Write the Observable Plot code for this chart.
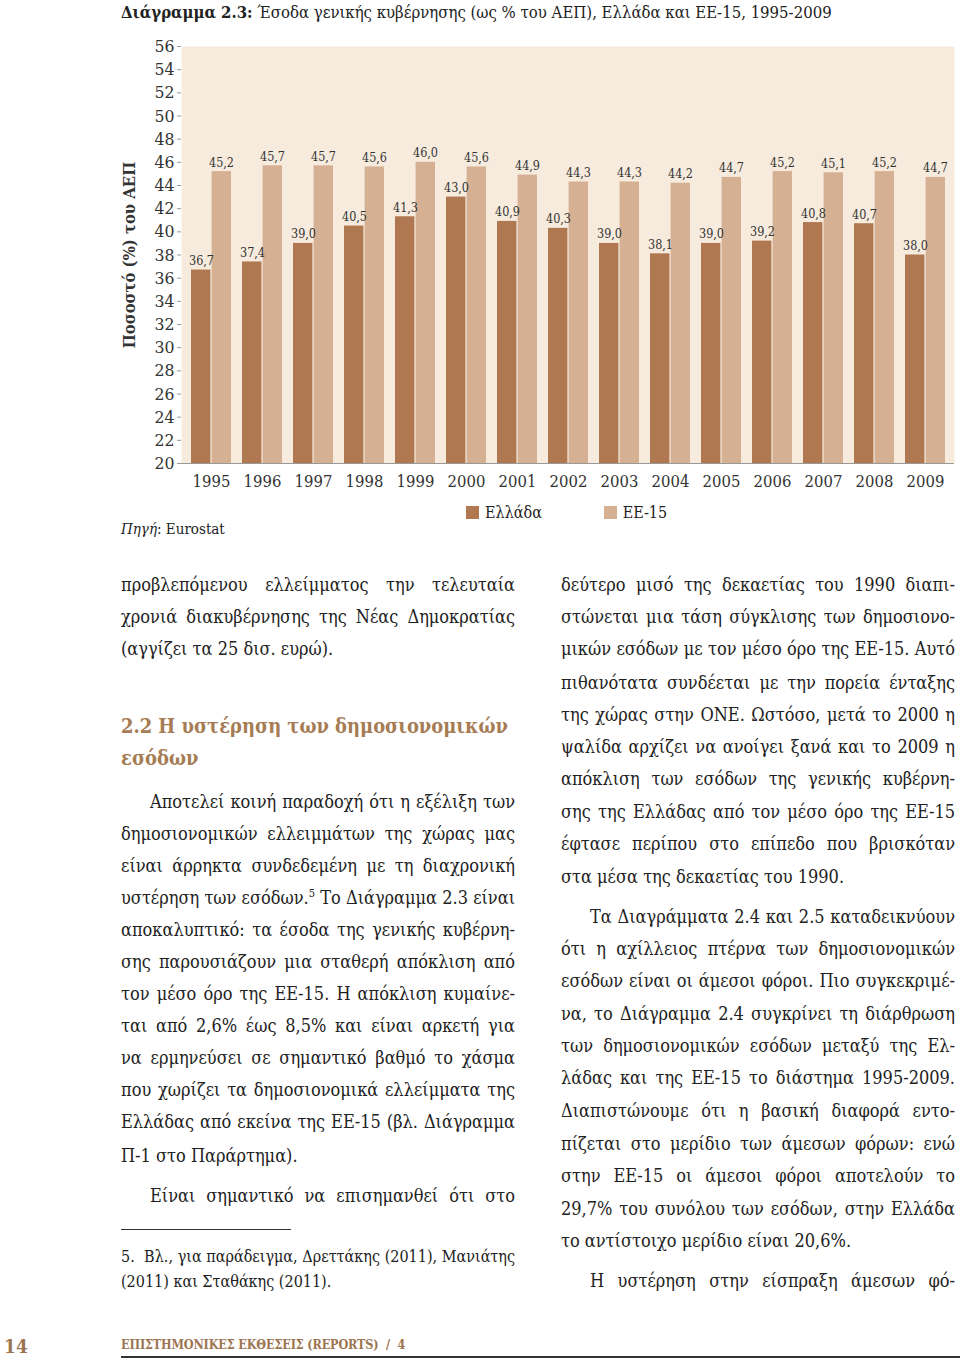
<!DOCTYPE html>
<html><head><meta charset="utf-8">
<script src="https://cdn.jsdelivr.net/npm/d3@7"></script>
<script src="https://cdn.jsdelivr.net/npm/@observablehq/plot@0.6"></script>
<style>
html,body{margin:0;padding:0;background:#fff;}
body{width:960px;height:1363px;position:relative;overflow:hidden;font-family:"DejaVu Serif Condensed","DejaVu Serif",serif;color:#222;}
.abs{position:absolute;}
#title{left:121px;top:2px;font-size:16.6px;white-space:nowrap;}
#chart{left:0;top:30px;}
#legend{left:466px;top:503px;font-size:16px;}
.sw{display:inline-block;width:13px;height:13px;vertical-align:-1px;margin-right:6px;}
#source{left:121px;top:520px;font-size:15px;}
.ln{position:absolute;height:32px;line-height:32px;font-size:18px;}
.j{text-align:justify;text-align-last:justify;}
.h{font-weight:bold;color:#a67c55;font-size:19.9px;white-space:nowrap;}
.fn{font-size:16px;}
</style></head>
<body>
<div id="title" class="abs"><b>Διάγραμμα 2.3:</b> Έσοδα γενικής κυβέρνησης (ως % του ΑΕΠ), Ελλάδα και ΕΕ-15, 1995-2009</div>
<div id="chart" class="abs"></div>
<div id="legend" class="abs"><span class="sw" style="background:#b07850"></span>Ελλάδα<span class="sw" style="background:#d5b093;margin-left:62px"></span>ΕΕ-15</div>
<div id="source" class="abs"><i>Πηγή</i>: Eurostat</div>
<div id="text"></div>
<script>
const years = ["1995","1996","1997","1998","1999","2000","2001","2002","2003","2004","2005","2006","2007","2008","2009"];
const greece = [36.7,37.4,39.0,40.5,41.3,43.0,40.9,40.3,39.0,38.1,39.0,39.2,40.8,40.7,38.0];
const eu15 =   [45.2,45.7,45.7,45.6,46.0,45.6,44.9,44.3,44.3,44.2,44.7,45.2,45.1,45.2,44.7];
const seriesNames = ["Ελλάδα","ΕΕ-15"];
const seriesColors = ["#b07850","#d5b093"];
const yTicks = [20,22,24,26,28,30,32,34,36,38,40,42,44,46,48,50,52,54,56];
const yLabel = "Ποσοστό (%) του ΑΕΠ";

const gr = years.map((y,i)=>({year:y, value:greece[i], series:seriesNames[0]}));
const eu = years.map((y,i)=>({year:y, value:eu15[i], series:seriesNames[1]}));
const fmt = v => v.toFixed(1).replace(".", ",");
const half = 20.6;

const chart = Plot.plot({
  width: 960, height: 465,
  marginLeft: 181, marginRight: 6, marginTop: 16, marginBottom: 32,
  style: {fontFamily: "'DejaVu Serif Condensed','DejaVu Serif',serif", fontSize: "16px", color: "#333", background: "transparent"},
  x: {type: "band", domain: years, paddingInner: 0.22, paddingOuter: 0.11, label: null},
  y: {domain: [20, 56], label: null},
  color: {domain: seriesNames, range: seriesColors},
  marks: [
    Plot.frame({fill: "#f7ebde", stroke: null}),
    Plot.barY(gr, {x: "year", y1: 20, y2: "value", fill: "series", insetRight: half}),
    Plot.barY(eu, {x: "year", y1: 20, y2: "value", fill: "series", insetLeft: half}),
    Plot.text(gr, {x: "year", y: "value", text: d => fmt(d.value), dx: -10, dy: -9, fontSize: 12.5, fill: "#333"}),
    Plot.text(eu, {x: "year", y: "value", text: d => fmt(d.value), dx: 10, dy: -9, fontSize: 12.5, fill: "#333"}),
    Plot.axisY({ticks: yTicks, tickFormat: d => d, tickSize: 4, stroke: "#999", fill: "#333", fontSize: 17.5, tickPadding: 3, label: null}),
    Plot.axisX({tickSize: 0, tickPadding: 12, fill: "#333", fontSize: 16.5, label: null}),
    Plot.ruleX([0], {frameAnchor: "left", stroke: "#999"}),
    Plot.ruleY([20], {stroke: "#999"}),
    Plot.text([yLabel], {frameAnchor: "left", textAnchor: "middle", rotate: -90, dx: -52, fontWeight: "bold", fontSize: 16.5, fill: "#333"})
  ]
});
document.getElementById("chart").appendChild(chart);

// body text
const leftLines = [
  [585,"προβλεπόμενου ελλείμματος την τελευταία","j"],
  [617,"χρονιά διακυβέρνησης της Νέας Δημοκρατίας","j"],
  [649,"(αγγίζει τα 25 δισ. ευρώ).","l"],
  [726,"2.2 Η υστέρηση των δημοσιονομικών","h"],
  [758,"εσόδων","h"],
  [802,"Αποτελεί κοινή παραδοχή ότι η εξέλιξη των","ji"],
  [834,"δημοσιονομικών ελλειμμάτων της χώρας μας","j"],
  [866,"είναι άρρηκτα συνδεδεμένη με τη διαχρονική","j"],
  [898,"υστέρηση των εσόδων.<sup style='font-size:11px;line-height:0'>5</sup> Το Διάγραμμα 2.3 είναι","j"],
  [930,"αποκαλυπτικό: τα έσοδα της γενικής κυβέρνη-","j"],
  [962,"σης παρουσιάζουν μια σταθερή απόκλιση από","j"],
  [994,"τον μέσο όρο της ΕΕ-15. Η απόκλιση κυμαίνε-","j"],
  [1026,"ται από 2,6% έως 8,5% και είναι αρκετή για","j"],
  [1058,"να ερμηνεύσει σε σημαντικό βαθμό το χάσμα","j"],
  [1090,"που χωρίζει τα δημοσιονομικά ελλείμματα της","j"],
  [1122,"Ελλάδας από εκείνα της ΕΕ-15 (βλ. Διάγραμμα","j"],
  [1156,"Π-1 στο Παράρτημα).","l"],
  [1196,"Είναι σημαντικό να επισημανθεί ότι στο","ji"],
  [1257,"5.&nbsp; Βλ., για παράδειγμα, Δρεττάκης (2011), Μανιάτης","fj"],
  [1282,"(2011) και Σταθάκης (2011).","fl"]
];
const rightLines = [
  [585,"δεύτερο μισό της δεκαετίας του 1990 διαπι-","j"],
  [617,"στώνεται μια τάση σύγκλισης των δημοσιονο-","j"],
  [649,"μικών εσόδων με τον μέσο όρο της ΕΕ-15. Αυτό","j"],
  [683,"πιθανότατα συνδέεται με την πορεία ένταξης","j"],
  [715,"της χώρας στην ΟΝΕ. Ωστόσο, μετά το 2000 η","j"],
  [747,"ψαλίδα αρχίζει να ανοίγει ξανά και το 2009 η","j"],
  [779,"απόκλιση των εσόδων της γενικής κυβέρνη-","j"],
  [812,"σης της Ελλάδας από τον μέσο όρο της ΕΕ-15","j"],
  [844,"έφτασε περίπου στο επίπεδο που βρισκόταν","j"],
  [877,"στα μέσα της δεκαετίας του 1990.","l"],
  [917,"Τα Διαγράμματα 2.4 και 2.5 καταδεικνύουν","ji"],
  [949,"ότι η αχίλλειος πτέρνα των δημοσιονομικών","j"],
  [981,"εσόδων είναι οι άμεσοι φόροι. Πιο συγκεκριμέ-","j"],
  [1014,"να, το Διάγραμμα 2.4 συγκρίνει τη διάρθρωση","j"],
  [1046,"των δημοσιονομικών εσόδων μεταξύ της Ελ-","j"],
  [1078,"λάδας και της ΕΕ-15 το διάστημα 1995-2009.","j"],
  [1111,"Διαπιστώνουμε ότι η βασική διαφορά εντο-","j"],
  [1144,"πίζεται στο μερίδιο των άμεσων φόρων: ενώ","j"],
  [1176,"στην ΕΕ-15 οι άμεσοι φόροι αποτελούν το","j"],
  [1209,"29,7% του συνόλου των εσόδων, στην Ελλάδα","j"],
  [1241,"το αντίστοιχο μερίδιο είναι 20,6%.","l"],
  [1281,"Η υστέρηση στην είσπραξη άμεσων φό-","ji"]
];
const host = document.getElementById("text");
function place(lines, left, width){
  for (const [y, t, m] of lines){
    const d = document.createElement("div");
    d.className = "ln";
    let l = left, w = width;
    if (m === "ji"){ l += 29; w -= 29; d.classList.add("j"); }
    if (m === "j" || m === "fj") d.classList.add("j");
    if (m === "h") d.classList.add("h");
    if (m === "fj" || m === "fl") d.classList.add("fn");
    d.style.left = l + "px"; d.style.width = w + "px"; d.style.top = (y - 16) + "px";
    d.innerHTML = t;
    host.appendChild(d);
  }
}
place(leftLines, 121, 394);
place(rightLines, 561, 394);
</script>
<div class="abs" style="left:121px;top:1229px;width:170px;height:1px;background:#333"></div>
<div class="abs" style="left:4px;top:1335px;font-size:19px;font-weight:bold;color:#9c7450">14</div>
<div class="abs" style="left:121px;top:1337px;font-size:12.5px;letter-spacing:-0.15px;font-weight:bold;color:#9c7450;white-space:nowrap">ΕΠΙΣΤΗΜΟΝΙΚΕΣ ΕΚΘΕΣΕΙΣ (REPORTS) &nbsp;/&nbsp; 4</div>
<div class="abs" style="left:121px;top:1356px;width:839px;height:2px;background:#333"></div>
</body></html>
